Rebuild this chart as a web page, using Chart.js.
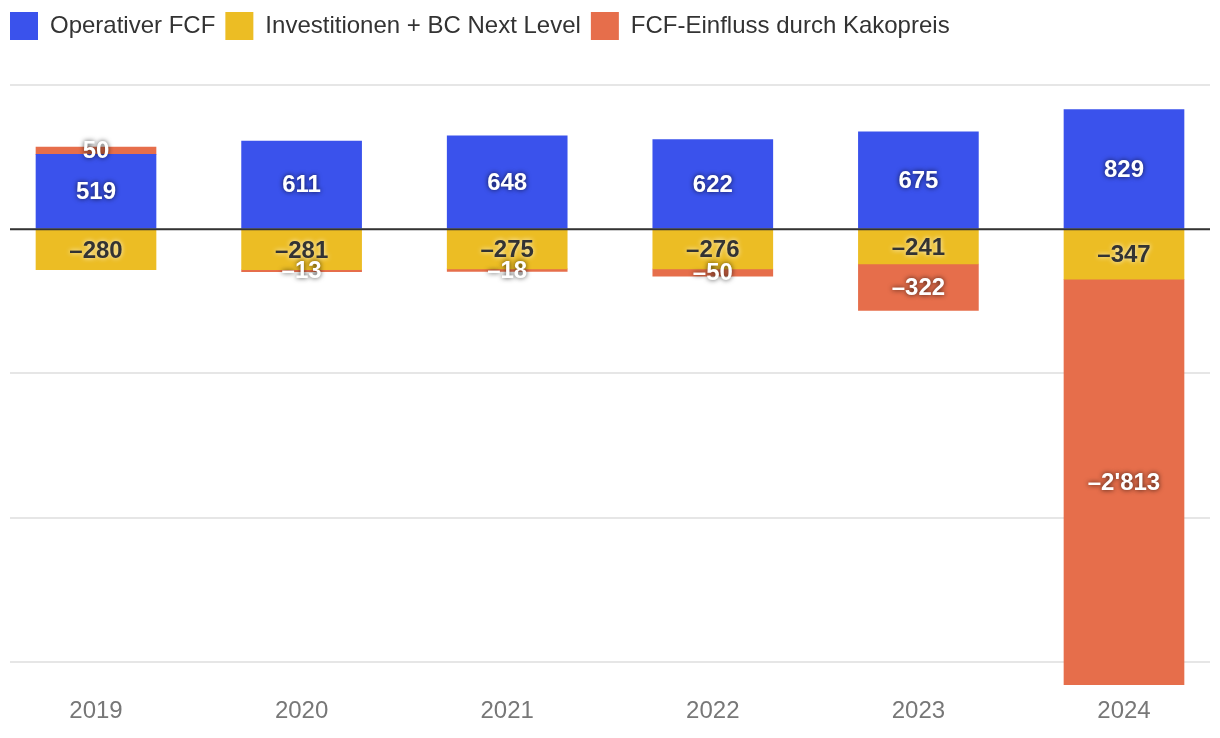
<!DOCTYPE html>
<html><head><meta charset="utf-8">
<script src="https://cdn.jsdelivr.net/npm/chart.js@4/dist/chart.umd.min.js"></script>
<style>html,body{margin:0;padding:0;background:#fff}#wrap{width:1220px;height:738px;position:relative}</style>
</head><body><div id="wrap"><canvas id="c"></canvas></div>
<script>
const categories = ['2019', '2020', '2021', '2022', '2023', '2024'];
const operativerFCF = [519, 611, 648, 622, 675, 829];
const investitionen = [-280, -281, -275, -276, -241, -347];
const kakaopreis = [50, -13, -18, -50, -322, -2813];
const yGridTicks = [-3000, -2000, -1000, 0, 1000];
const seriesNames = ['Operativer FCF', 'Investitionen + BC Next Level', 'FCF-Einfluss durch Kakopreis'];
const seriesColors = ['#3a52ec', '#ecbd24', '#e66e4b'];
const labelColors = ['#ffffff', '#333333', '#ffffff'];

const FONT = '"Liberation Sans", Arial, Helvetica, sans-serif';

function fmt(v) {
  const s = Math.abs(v).toString().replace(/\B(?=(\d{3})+(?!\d))/g, "'");
  return (v < 0 ? '\u2013' : '') + s;
}
function toPoints(arr) { return arr.map((v, i) => ({ x: i, y: v })); }

const legendSpace = {
  id: 'legendSpace',
  beforeInit(chart) {
    const fit = chart.legend.fit;
    chart.legend.fit = function () { fit.bind(chart.legend)(); this.height += 35; };
  }
};

const barLabels = {
  id: 'barLabels',
  afterDatasetsDraw(chart) {
    const ctx = chart.ctx;
    const y0 = chart.scales.y.getPixelForValue(0);
    ctx.save();
    ctx.strokeStyle = '#333';
    ctx.lineWidth = 2;
    ctx.beginPath();
    ctx.moveTo(chart.chartArea.left, y0);
    ctx.lineTo(chart.chartArea.right, y0);
    ctx.stroke();
    ctx.restore();

    chart.data.datasets.forEach((ds, di) => {
      const meta = chart.getDatasetMeta(di);
      meta.data.forEach((bar, i) => {
        const v = ds.data[i].y;
        const cy = (bar.y + bar.base) / 2;
        ctx.save();
        ctx.font = 'bold 24px ' + FONT;
        ctx.textAlign = 'center';
        ctx.textBaseline = 'middle';
        ctx.fillStyle = labelColors[di];
        if (labelColors[di] === '#ffffff') {
          ctx.shadowColor = 'rgba(0,0,0,0.75)';
        } else {
          ctx.shadowColor = 'rgba(255,255,255,0.85)';
        }
        ctx.shadowBlur = 5;
        ctx.fillText(fmt(v), bar.x, cy + 1);
        ctx.restore();
      });
    });
  }
};

new Chart(document.getElementById('c'), {
  type: 'bar',
  data: {
    datasets: [
      { label: seriesNames[0], data: toPoints(operativerFCF), backgroundColor: seriesColors[0] },
      { label: seriesNames[1], data: toPoints(investitionen), backgroundColor: seriesColors[1] },
      { label: seriesNames[2], data: toPoints(kakaopreis), backgroundColor: seriesColors[2] }
    ]
  },
  options: {
    responsive: true,
    maintainAspectRatio: false,
    animation: false,
    barThickness: 120,
    layout: { padding: { top: 2, left: 0, right: 10, bottom: 0 } },
    plugins: {
      tooltip: { enabled: false },
      legend: {
        position: 'top',
        align: 'start',
        labels: {
          boxWidth: 28,
          boxHeight: 28,
          padding: 10,
          color: '#333',
          font: { family: FONT, size: 24 }
        }
      }
    },
    scales: {
      x: {
        type: 'linear',
        offset: false,
        stacked: true,
        min: -0.4183,
        max: 5.4183,
        grid: { display: false, drawTicks: false, offset: false },
        border: { display: false },
        afterBuildTicks(scale) { scale.ticks = categories.map((_, i) => ({ value: i })); },
        ticks: {
          padding: 13.5,
          color: '#777',
          font: { family: FONT, size: 24, lineHeight: 1.083 },
          callback: (v) => categories[v]
        }
      },
      y: {
        stacked: true,
        min: -3160,
        max: 1000,
        afterBuildTicks(scale) { scale.ticks = yGridTicks.map(v => ({ value: v })); },
        afterFit(scale) { scale.width = 10; },
        grid: { color: '#e6e6e6', lineWidth: 2, drawTicks: false },
        border: { display: false },
        ticks: { display: false }
      }
    }
  },
  plugins: [legendSpace, barLabels]
});
</script>
</body></html>
